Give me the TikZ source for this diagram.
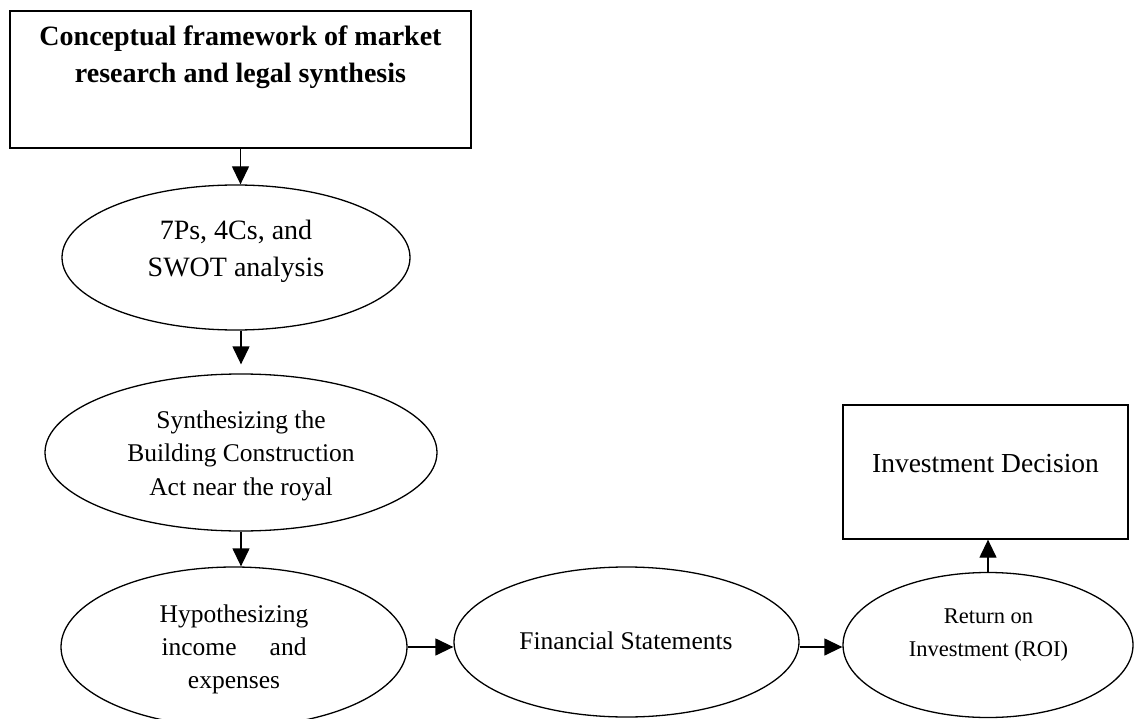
\documentclass[tikz,border=0pt]{standalone}
\usepackage{fontspec}
\setmainfont{Liberation Serif}
\usetikzlibrary{arrows.meta,shapes.geometric}
\begin{document}
\begin{tikzpicture}[x=1pt,y=-1pt,
  shp/.style={draw=black,line width=1.3pt},
  ell/.style={shp,ellipse,inner sep=0pt},
  rect/.style={shp,rectangle,inner sep=0pt},
  txt/.style={inner sep=0pt,align=center,text=black},
  arr/.style={line width=1.3pt,-{Triangle[length=18pt,width=17pt]}}]
\useasboundingbox (0,0) rectangle (1140,719);
% shapes
\node[rect,minimum width=461pt,minimum height=137pt] (frame) at (240.5,79.5) {};
\node[ell,minimum width=348pt,minimum height=145pt] (e1) at (236,257.5) {};
\node[ell,minimum width=392pt,minimum height=157pt] (e2) at (241,452.5) {};
\node[ell,minimum width=346pt,minimum height=160pt] (e3) at (234,647) {};
\node[ell,minimum width=345pt,minimum height=150pt] (e4) at (626.5,642) {};
\node[ell,minimum width=290pt,minimum height=145pt] (e5) at (988,645) {};
\node[rect,minimum width=285pt,minimum height=134pt] (dec) at (985.5,472) {};
% texts
\node[txt,font=\bfseries\fontsize{28}{37}\selectfont] (t0) at (240.5,57.6) {Conceptual framework of market\\research and legal synthesis};
\node[txt,font=\fontsize{28}{37}\selectfont] (t1) at (236,251) {7Ps, 4Cs, and\\SWOT analysis};
\node[txt,font=\fontsize{25.5}{33.5}\selectfont] (t2) at (241,455.5) {Synthesizing the\\Building Construction\\Act near the royal};
\node[txt,font=\fontsize{25.5}{33}\selectfont] (t3) at (234,649) {Hypothesizing\\\hbox to 145pt{income\hfill and}\\expenses};
\node[txt,anchor=base,font=\fontsize{25.5}{33}\selectfont] (t4) at (626,649) {Financial Statements};
\node[txt,font=\fontsize{22.5}{33}\selectfont] (t5) at (988.5,635) {Return on\\Investment (ROI)};
\node[txt,anchor=base,font=\fontsize{27.5}{33}\selectfont] (t6) at (985.5,472) {Investment Decision};
% connectors
\draw[arr] (frame.south) -- (frame.south |- e1.north);
\draw[arr] (e2.north |- e1.south) -- ([yshift=9pt]e2.north);
\draw[arr] (e2.south) -- (e2.south |- e3.north);
\draw[arr] (e3.east) -- (e3.east -| e4.west);
\draw[arr] (e4.east |- e3.east) -- (e3.east -| e5.west);
\draw[arr] (e5.north) -- (e5.north |- dec.south);
\end{tikzpicture}
\end{document}
